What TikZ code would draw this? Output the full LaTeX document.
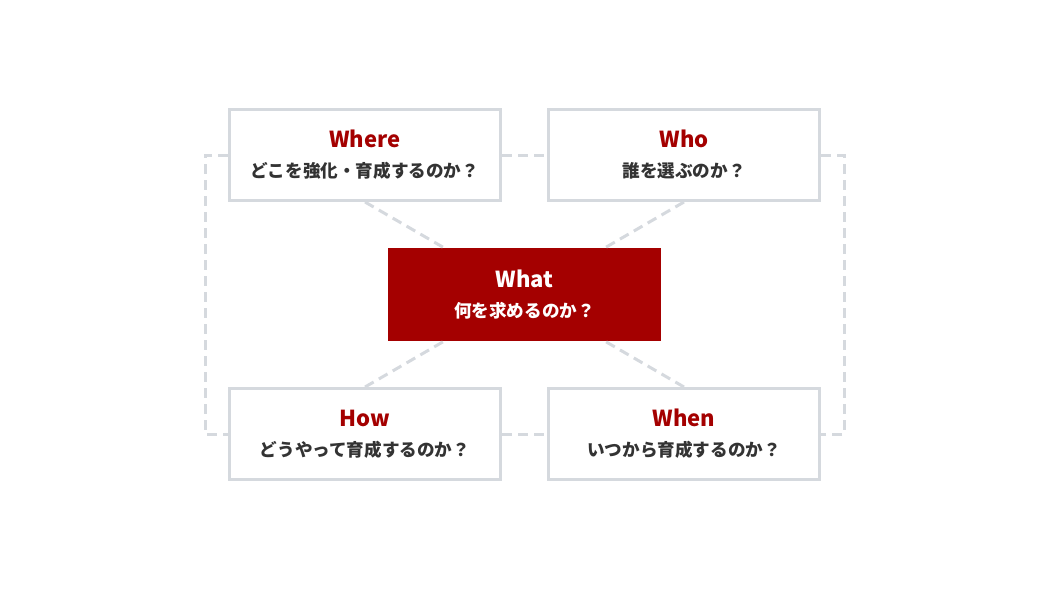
\documentclass[tikz,border=0pt]{standalone}
\usepackage{fontspec}
\setmainfont{Noto Sans CJK JP}
\usetikzlibrary{positioning}
\definecolor{keyred}{HTML}{A40000}
\definecolor{frame}{HTML}{D5D9DE}
\definecolor{ink}{HTML}{333333}
\newcommand{\qtext}[2]{{\fontsize{22}{30}\selectfont\textcolor{keyred}{#1}}\\#2}

\begin{document}
\begin{tikzpicture}[x=1pt, y=-1pt, node distance=1cm, on grid,
    box/.style={draw=frame, line width=3pt, fill=white, minimum width=271pt, minimum height=91pt,
        align=center, text=ink, font=\bfseries\fontsize{17.6}{30}\selectfont},
    core/.style={fill=keyred, minimum width=273pt, minimum height=93pt,
        align=center, text=white, font=\bfseries\fontsize{17.6}{30}\selectfont},
    link/.style={draw=frame, line width=3pt, dash pattern=on 10pt off 6pt}]

    \useasboundingbox (0,0) rectangle (1050,590);

    % Mitte
    \node[core] (what) at (524.5,294.5) {{\fontsize{22}{30}\selectfont What}\\何を求めるのか？};

    % Fragen
    \node[box, above left=139.5pt and 159.5pt of what] (where) {\qtext{Where}{どこを強化・育成するのか？}};
    \node[box, above right=139.5pt and 159.5pt of what] (who) {\qtext{Who}{誰を選ぶのか？}};
    \node[box, below left=139.5pt and 159.5pt of what] (how) {\qtext{How}{どうやって育成するのか？}};
    \node[box, below right=139.5pt and 159.5pt of what] (when) {\qtext{When}{いつから育成するのか？}};

    % Linien
    \path[link]
    (where.south) edge (what)
    (who.south) edge (what)
    (how.north) edge (what)
    (when.north) edge (what)
    (where.east) edge (who.west)
    (how.east) edge (when.west);
    \draw[link] (where.west) -- ++(-23,0) |- (how.west);
    \draw[link] (who.east) -- ++(23,0) |- (when.east);

\end{tikzpicture}
\end{document}
